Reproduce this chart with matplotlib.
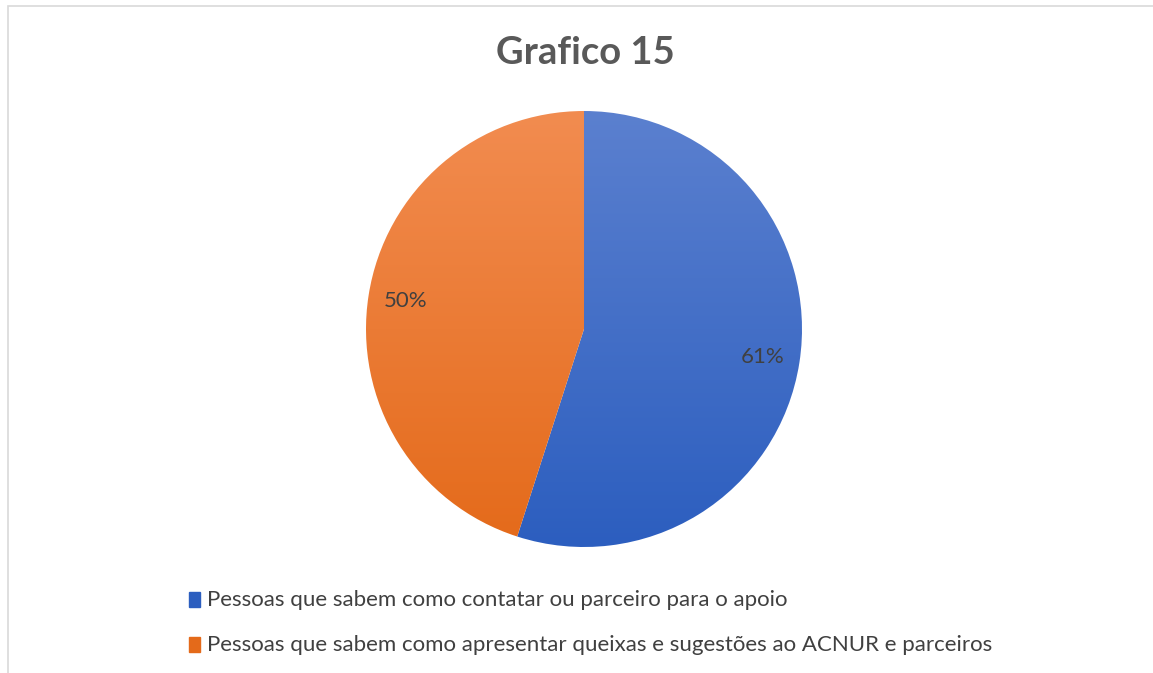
import numpy as np
import matplotlib.pyplot as plt
from matplotlib.colors import LinearSegmentedColormap
from matplotlib.patches import Rectangle

# dados do gráfico
categorias = ["Pessoas que sabem como contatar ou parceiro para o apoio",
              "Pessoas que sabem como apresentar queixas e sugestões ao ACNUR e parceiros"]
valores = [61, 50]
# cores (topo, base) do gradiente de cada fatia
cores_topo = ["#5b80cf", "#f28c50"]
cores_base = ["#2c5ebf", "#e46a1a"]

plt.rcParams['font.family'] = ['Lato', 'DejaVu Sans']

fig = plt.figure(figsize=(11.53, 6.73), dpi=100)

# moldura cinza do gráfico
fig.patches.append(Rectangle((8 / 1153, -0.01), 1.2, (673 - 6) / 673 + 0.01,
                             transform=fig.transFigure, fill=False,
                             edgecolor="#d9d9d9", linewidth=1.2))

# eixo quadrado para a pizza
ax = fig.add_axes([(584 - 218) / 1153, (344 - 218) / 673, 436 / 1153, 436 / 673])
total = sum(valores)
wedges, textos, pcts = ax.pie(valores, startangle=90, counterclock=False,
                              colors=cores_topo, radius=1,
                              autopct=lambda p: f"{round(p * total / 100):.0f}%",
                              pctdistance=0.83,
                              textprops=dict(color="#404040", fontsize=16))

# gradiente vertical em cada fatia
grad = np.linspace(1, 0, 256).reshape(-1, 1)
for w, ct, cb in zip(wedges, cores_topo, cores_base):
    cmap = LinearSegmentedColormap.from_list("g", [cb, ct])
    im = ax.imshow(grad, cmap=cmap, extent=[-1, 1, -1, 1], aspect="auto",
                   origin="upper", zorder=1)
    im.set_clip_path(w)
    w.set_alpha(0)
for t in pcts:
    t.set_zorder(5)

ax.set_xlim(-1, 1)
ax.set_ylim(-1, 1)
ax.set_aspect("equal")
ax.axis("off")

# título
fig.text(585 / 1153, 1 - 53 / 673, "Grafico 15", ha="center", va="center",
         fontsize=27.5, fontweight="bold", color="#595959")

# legenda
for i, (cat, ct, cb) in enumerate(zip(categorias, cores_topo, cores_base)):
    y = 1 - (600 + i * 45) / 673
    fig.patches.append(Rectangle((189 / 1153, y - 7 / 673), 11 / 1153, 15 / 673,
                                 transform=fig.transFigure, color=cb))
    fig.text(207 / 1153, y, cat, ha="left", va="center", fontsize=16,
             color="#404040")

fig.savefig("out.png", dpi=100)
